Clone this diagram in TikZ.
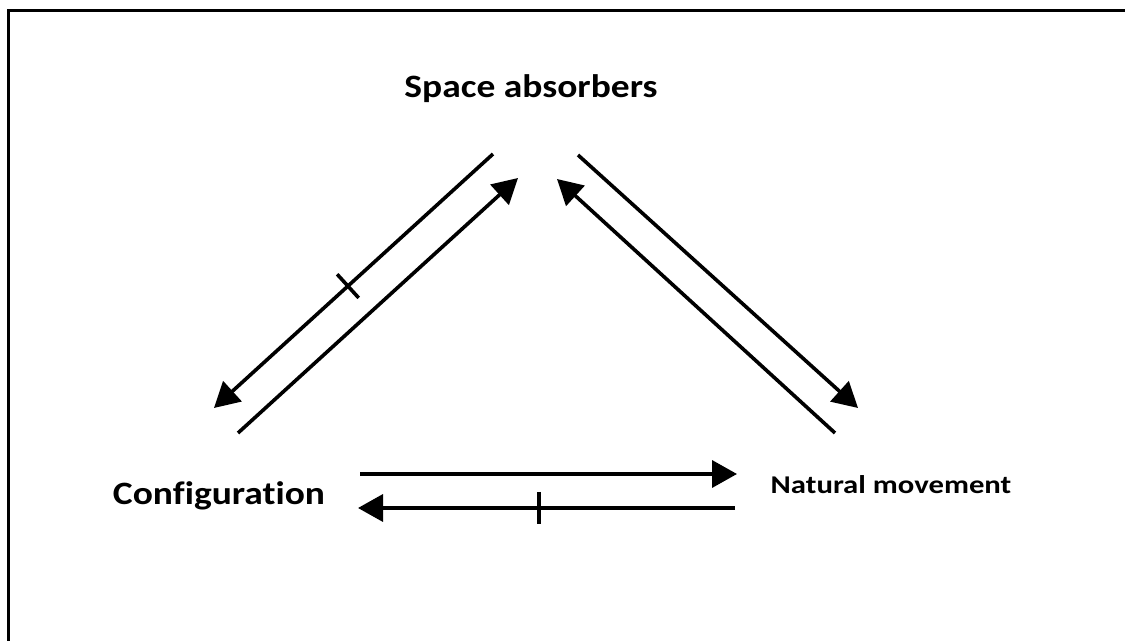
\documentclass[tikz,border=0pt]{standalone}
\usepackage{fontspec}
\setmainfont{Carlito}[Ligatures=NoCommon]
\usetikzlibrary{arrows.meta,decorations.markings}
\tikzset{
  lbl/.style={font=\bfseries\fontsize{16.3}{19}\selectfont, inner sep=0pt, anchor=base},
  lblsmall/.style={font=\bfseries\fontsize{12.8}{15}\selectfont, inner sep=0pt, anchor=base},
  conn/.style={line width=1.8pt, -{Triangle[length=12.5pt,width=13.5pt]}},
  ticked/.style={postaction={decorate}, decoration={markings,
     mark=at position #1 with {\draw[line width=1.8pt, arrows=-] (0,-8pt) -- (0,8pt);}}},
}
\begin{document}
\begin{tikzpicture}[x=0.5pt,y=-0.5pt]
\useasboundingbox (0,0) rectangle (1125,641);
\draw[line width=1.5pt] (8,645) -- (8,11) -- (1130,11);
% labels
\node[lbl] (sa) at (531,98) {\scalebox{1.15}[1]{Space absorbers}};
\node[lbl] (cf) at (219,505) {\scalebox{1.15}[1]{Configuration}};
\node[lblsmall] (nm) at (891,494) {\scalebox{1.2}[1]{Natural movement}};
% endpoints
\coordinate (a1) at (493,154); \coordinate (a2) at (214,408);
\coordinate (b1) at (238,433); \coordinate (b2) at (518,178);
\coordinate (c1) at (578,155); \coordinate (c2) at (858,408);
\coordinate (d1) at (835,433); \coordinate (d2) at (557,179);
\coordinate (e1) at (360,474); \coordinate (e2) at (737,474);
\coordinate (f1) at (735,508); \coordinate (f2) at (358,508);
% connectors
\draw[conn, ticked=0.52] (a1) -- (a2);
\draw[conn] (b1) -- (b2);
\draw[conn] (c1) -- (c2);
\draw[conn] (d1) -- (d2);
\draw[conn] (e1) -- (e2);
\draw[conn, ticked=0.52] (f1) -- (f2);
\end{tikzpicture}
\end{document}
